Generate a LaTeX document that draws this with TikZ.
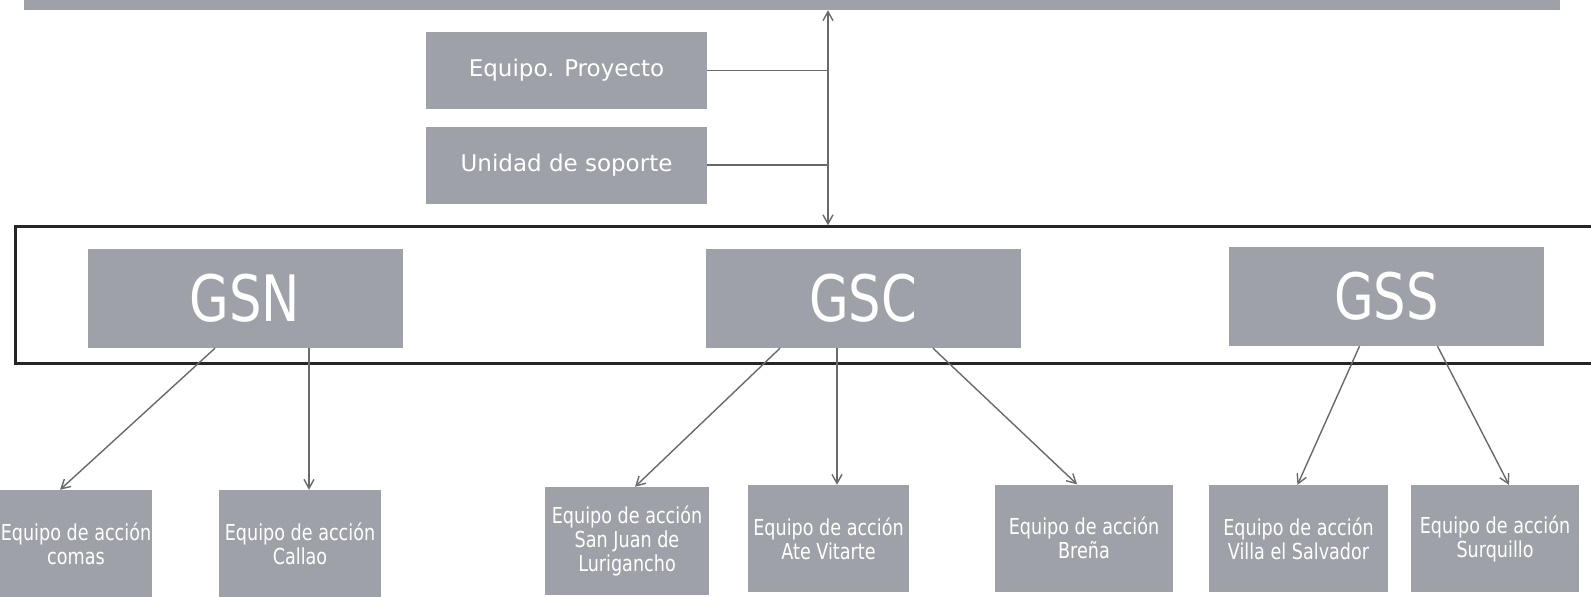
\documentclass[tikz,border=0pt]{standalone}
\usepackage{fontspec}
\usetikzlibrary{arrows.meta}
\newfontfamily\cajafont{DejaVu Sans}
\newfontfamily\cajaangosta[FakeStretch=0.8]{DejaVu Sans}
\definecolor{grisbloque}{RGB}{158,161,168}
\definecolor{grislinea}{RGB}{105,105,105}
\begin{document}
\begin{tikzpicture}[x=1pt,y=-1pt,
    bloque/.style={fill=grisbloque,text=white,inner sep=0pt,align=center},
    equipo/.style={bloque,minimum width=281pt,minimum height=77pt,font=\cajafont\fontsize{23}{28}\selectfont},
    gerencia/.style={bloque,minimum width=315pt,minimum height=99pt,font=\cajaangosta\fontsize{64}{70}\selectfont},
    accion/.style={bloque,minimum height=107pt,font=\cajaangosta\fontsize{22}{24}\selectfont},
    enlace/.style={draw=grislinea,line width=1.4pt},
    flecha/.style={enlace,-{Straight Barb[length=9pt,width=10pt]}},
    doble/.style={enlace,{Straight Barb[length=9pt,width=10pt]}-{Straight Barb[length=9pt,width=10pt]}}]
  \useasboundingbox (0,0) rectangle (1591,597);
  \node[bloque,minimum width=1536pt,minimum height=20pt] (direccion) at (792,0) {};
  \node[equipo] (proyecto) at (566.5,70.5) {Equipo. Proyecto};
  \node[equipo] (soporte) at (566.5,165) {Unidad de soporte};
  \node[draw=black!85,line width=2.5pt,minimum width=1600pt,minimum height=137pt,
    inner sep=0pt,anchor=west] (gerencias) at (14,295) {};
  \node[gerencia] (gsn) at (245,298.5) {GSN};
  \node[gerencia] (gsc) at (863,298.5) {GSC};
  \node[gerencia] (gss) at (1386.5,296.5) {GSS};
  \node[accion,minimum width=152pt,minimum height=108pt] (comas) at (76,544) {Equipo de acción\\comas};
  \node[accion,minimum width=162pt,minimum height=108pt] (callao) at (300,544) {Equipo de acción\\Callao};
  \node[accion,minimum width=164pt,minimum height=108pt] (sanjuan) at (627,541) {Equipo de acción\\San Juan de\\Lurigancho};
  \node[accion,minimum width=161pt] (ate) at (828.5,538.5) {Equipo de acción\\Ate Vitarte};
  \node[accion,minimum width=178pt] (brena) at (1084,538) {Equipo de acción\\Breña};
  \node[accion,minimum width=179pt] (villa) at (1298.5,538.5) {Equipo de acción\\Villa el Salvador};
  \node[accion,minimum width=168pt] (surquillo) at (1495,538.5) {Equipo de acción\\Surquillo};
  \coordinate (eje) at (828,0);
  \draw[doble] (direccion.south -| eje) -- (gerencias.north -| eje);
  \draw[enlace] (proyecto.east) -- (proyecto.east -| eje);
  \draw[enlace] (soporte.east) -- (soporte.east -| eje);
  \draw[flecha] ([xshift=-30pt]gsn.south) -- ([xshift=-16pt]comas.north);
  \draw[flecha] ([xshift=64pt]gsn.south) -- ([xshift=9pt]callao.north);
  \draw[flecha] ([xshift=-83pt]gsc.south) -- ([xshift=8pt]sanjuan.north);
  \draw[flecha] ([xshift=-26pt]gsc.south) -- ([xshift=8.5pt]ate.north);
  \draw[flecha] ([xshift=70pt]gsc.south) -- ([xshift=-7pt]brena.north);
  \draw[flecha] ([xshift=-27pt]gss.south) -- ([xshift=-1pt]villa.north);
  \draw[flecha] ([xshift=51pt]gss.south) -- ([xshift=14pt]surquillo.north);
\end{tikzpicture}
\end{document}
